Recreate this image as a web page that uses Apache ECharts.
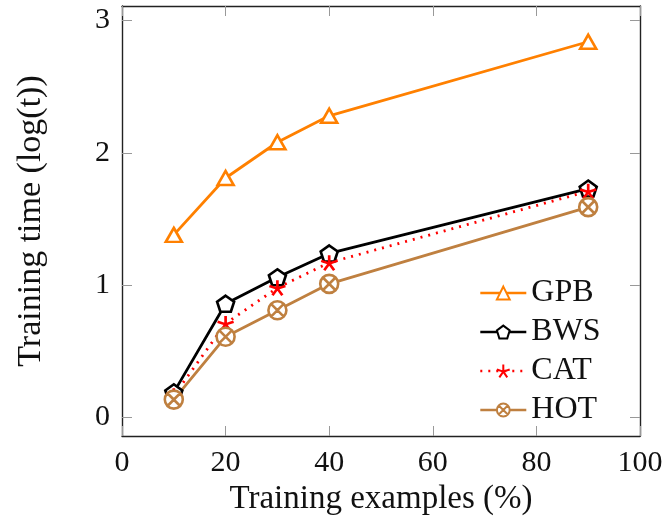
<!DOCTYPE html>
<html>
<head>
<meta charset="utf-8">
<script src="https://cdn.jsdelivr.net/npm/echarts@6/dist/echarts.min.js"></script>
<style>
  html, body { margin: 0; padding: 0; background: #fff; }
  #chart { width: 666px; height: 524px; }
</style>
</head>
<body>
<div id="chart"></div>
<script>
// Training share (%) on the x axis
const trainingPercent = [10, 20, 30, 40, 90];

// log(training time) per method
const gpbTime = [1.38, 1.81, 2.08, 2.28, 2.84];
const bwsTime = [0.19, 0.86, 1.06, 1.24, 1.73];
const catTime = [0.165, 0.71, 0.98, 1.17, 1.71];
const hotTime = [0.135, 0.61, 0.81, 1.01, 1.59];

const xTicks = [0, 20, 40, 60, 80, 100];
const yTicks = [0, 1, 2, 3];

const FONT = '"Liberation Serif", "DejaVu Serif", serif';

const pentagon = 'path://M0,-1L0.951,-0.309L0.588,0.809L-0.588,0.809L-0.951,-0.309Z';
const asterisk = 'path://M0,0L0,-1M0,0L0.951,-0.309M0,0L0.588,0.809M0,0L-0.588,0.809M0,0L-0.951,-0.309';
const otimes = 'path://M-1,0A1,1 0 1,0 1,0A1,1 0 1,0 -1,0ZM-0.707,-0.707L0.707,0.707M0.707,-0.707L-0.707,0.707';

function pairs(ys) {
  return trainingPercent.map((x, i) => [x, ys[i]]);
}

function makeSeries(name, ys, color, symbol, size, lineType) {
  return {
    name: name,
    type: 'line',
    data: pairs(ys),
    symbol: symbol,
    symbolSize: size,
    showAllSymbol: true,
    lineStyle: { color: color, width: 2.8, type: lineType || 'solid' },
    itemStyle: { color: '#fff', borderColor: color, borderWidth: 2.6 },
    emphasis: { disabled: true },
    animation: false,
    z: 3
  };
}

const tickStyle = { inside: true, length: 10, lineStyle: { color: '#999', width: 1 } };
const frameLine = { show: true, onZero: false, lineStyle: { color: '#222', width: 1.4 } };

const chart = echarts.init(document.getElementById('chart'), null, { renderer: 'canvas' });

chart.setOption({
  backgroundColor: '#fff',
  animation: false,
  grid: { left: 122, right: 26, top: 6, bottom: 88, containLabel: false },
  xAxis: [
    {
      type: 'value', min: 0, max: 100, interval: 20, position: 'bottom',
      name: 'Training examples (%)', nameLocation: 'middle', nameGap: 47,
      nameTextStyle: { fontFamily: FONT, fontSize: 33, color: '#111' },
      axisLine: frameLine,
      axisTick: { show: true, ...tickStyle },
      axisLabel: { fontFamily: FONT, fontSize: 30, color: '#111', margin: 12,
        customValues: xTicks },
      splitLine: { show: false }
    },
    {
      type: 'value', min: 0, max: 100, interval: 20, position: 'top',
      axisLine: frameLine,
      axisTick: { show: true, ...tickStyle },
      axisLabel: { show: false },
      splitLine: { show: false }
    }
  ],
  yAxis: [
    {
      type: 'value', min: -0.14, max: 3.11, position: 'left',
      name: 'Training time (log(t))', nameLocation: 'middle', nameGap: 74,
      nameTextStyle: { fontFamily: FONT, fontSize: 34, color: '#111' },
      axisLine: frameLine,
      axisTick: { show: true, ...tickStyle, customValues: yTicks },
      axisLabel: { fontFamily: FONT, fontSize: 30, color: '#111', margin: 12,
        customValues: yTicks },
      splitLine: { show: false }
    },
    {
      type: 'value', min: -0.14, max: 3.11, position: 'right',
      axisLine: frameLine,
      axisTick: { show: true, ...tickStyle, customValues: yTicks },
      axisLabel: { show: false },
      splitLine: { show: false }
    }
  ],
  legend: {
    orient: 'vertical',
    left: 474,
    top: 272,
    itemWidth: 46,
    itemHeight: 16,
    itemGap: 7,
    lineStyle: { width: 2.6 },
    textStyle: { fontFamily: FONT, fontSize: 32, color: '#111', padding: [0, 0, 0, 0] },
    data: ['GPB', 'BWS', 'CAT', 'HOT']
  },
  series: [
    makeSeries('GPB', gpbTime, '#ff8000', 'triangle', [16, 14]),
    makeSeries('BWS', bwsTime, '#000000', pentagon, [17, 16]),
    makeSeries('CAT', catTime, '#ff0000', asterisk, [16, 15], [2, 6]),
    makeSeries('HOT', hotTime, '#bf8040', otimes, [18, 18])
  ]
});
</script>
</body>
</html>
